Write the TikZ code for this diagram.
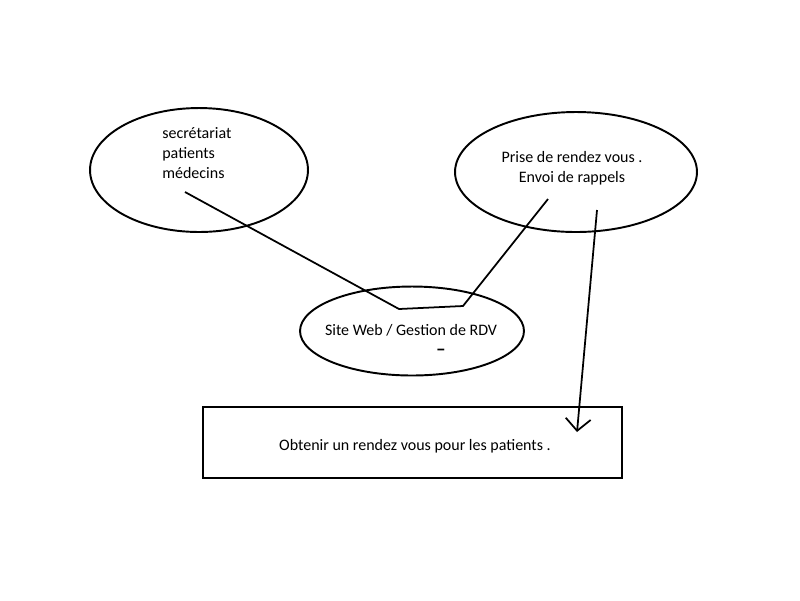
\documentclass[tikz,border=0pt]{standalone}
\usepackage{fontspec}
\setmainfont{Carlito}
\usetikzlibrary{arrows.meta,positioning,calc,shapes.geometric}
\definecolor{Ink}{HTML}{000000}
\tikzset{
  bulle/.style={draw=Ink,ellipse,line width=1.1pt,inner sep=0pt},
  cadre/.style={draw=Ink,rectangle,line width=1.2pt,inner sep=0pt},
  texte/.style={text=Ink,font=\fontsize{9.1}{11.3}\selectfont,inner sep=0pt},
  trait/.style={draw=Ink,line width=1pt},
  fleche/.style={trait,-{Straight Barb[length=2.4mm,width=5mm,line width=1pt]}}
}
\begin{document}
\begin{tikzpicture}[x=0.02cm,y=-0.02cm]
\useasboundingbox (0,0) rectangle (800,600);
\node[bulle,minimum width=4.36cm,minimum height=2.48cm] (acteurs) at (199,170) {};
\node[bulle,minimum width=4.84cm,minimum height=2.4cm] (fonctions) at (576,172) {};
\node[bulle,minimum width=4.48cm,minimum height=1.78cm] (site) at (412,331) {};
\node[cadre,minimum width=8.38cm,minimum height=1.42cm] (objectif) at (412.5,442.5) {};
\node[texte,align=left,anchor=west] (acteurstxt) at (162,153) {secrétariat\\patients\\médecins};
\node[texte,align=center] (fonctionstxt) at (572,168) {Prise de rendez vous .\\Envoi de rappels};
\node[texte] (sitetxt) at (411,330) {Site Web / Gestion de RDV};
\node[texte,font=\fontsize{11}{11.3}\selectfont\bfseries] (tiret) at (441,352) {–};
\node[texte] (objectiftxt) at (415,446) {Obtenir un rendez vous pour les patients .};
\coordinate (a1) at (185,192);
\coordinate (a2) at (399,309);
\coordinate (a3) at (463,306);
\coordinate (a4) at (548,199);
\coordinate (b1) at (597,210);
\coordinate (b2) at (577,432);
\draw[trait] (a1)--(a2)--(a3)--(a4);
\draw[fleche] (b1)--(b2);
\end{tikzpicture}
\end{document}
